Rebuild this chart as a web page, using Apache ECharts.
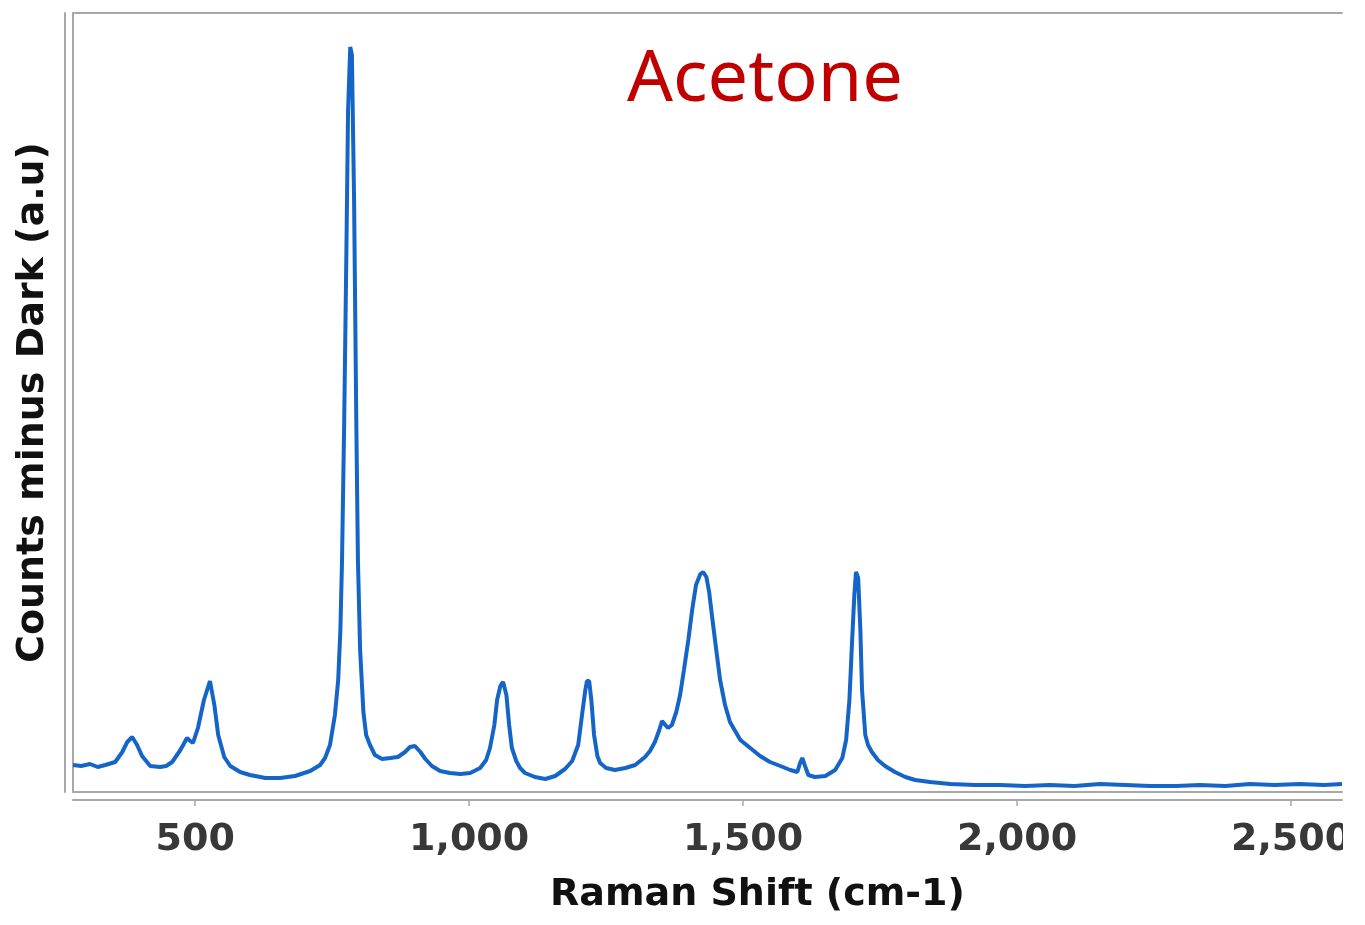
<!DOCTYPE html>
<html><head><meta charset="utf-8">
<script src="https://cdn.jsdelivr.net/npm/echarts@6/dist/echarts.min.js"></script>
<style>html,body{margin:0;padding:0;background:#fff}#c{width:1365px;height:925px}</style>
</head><body><div id="c"></div>
<script>
// Raman shift (cm-1)
const shift = [277,292,308,322,336,354,367,376,385,394,403,418,436,447,458,473,485,491,496,505,516,527,535,542,553,564,582,600,628,655,682,710,728,737,746,755,761,765,768,772,776,779,783,786,790,794,797,801,807,812,819,828,841,856,870,883,892,901,911,920,932,947,965,984,1002,1020,1031,1038,1046,1051,1057,1062,1068,1073,1078,1086,1093,1102,1120,1139,1157,1175,1188,1199,1206,1212,1215,1219,1223,1228,1234,1239,1250,1266,1285,1303,1321,1330,1339,1347,1352,1358,1363,1370,1378,1385,1392,1400,1407,1414,1422,1427,1433,1438,1443,1451,1458,1467,1476,1495,1513,1531,1549,1568,1586,1599,1604,1608,1613,1619,1631,1650,1668,1681,1688,1694,1699,1703,1706,1710,1714,1717,1723,1728,1735,1746,1759,1777,1796,1814,1841,1878,1923,1969,2015,2060,2105,2151,2197,2243,2290,2334,2380,2425,2470,2516,2560,2593];
// Counts minus dark (a.u.)
const counts = [540,520,560,500,540,600,800,1000,1100,940,720,520,500,520,600,840,1080,1020,980,1280,1840,2220,1740,1140,700,520,400,340,280,280,320,420,540,680,940,1540,2240,3240,4640,7440,10840,13640,14900,14740,11840,7440,4640,2840,1600,1140,940,740,660,680,700,800,900,920,800,660,520,420,380,360,380,480,640,880,1340,1840,2120,2200,1940,1340,880,620,480,380,300,260,320,460,620,940,1540,2040,2220,2220,1840,1140,720,580,480,440,480,540,700,820,1000,1240,1420,1340,1280,1340,1600,1940,2440,3040,3640,4140,4360,4400,4300,4000,3540,2840,2240,1740,1400,1040,880,720,600,520,440,400,580,680,520,340,300,320,440,680,1040,1840,3040,3940,4400,4280,3240,2040,1140,940,800,640,520,400,300,240,200,160,140,140,120,140,120,160,140,120,120,140,120,160,140,160,140,160];
const xTicks = [500,1000,1500,2000,2500];
const titleText = 'Acetone';
const xName = 'Raman Shift (cm-1)';
const yName = 'Counts minus Dark (a.u)';

const X_MIN = 277, X_MAX = 2593, Y_MIN = 0, Y_MAX = 15580;
const frameColor = '#a8a8a8';
const chart = echarts.init(document.getElementById('c'), null, {renderer: 'canvas'});

function lineOnlyX(pos, offset) {
  return {type: 'value', min: X_MIN, max: X_MAX, position: pos, offset: offset,
    axisLine: {show: true, onZero: false, lineStyle: {color: frameColor, width: 2}},
    axisTick: {show: false}, axisLabel: {show: false}, splitLine: {show: false}};
}
function lineOnlyY(offset, withName) {
  const a = {type: 'value', min: Y_MIN, max: Y_MAX, position: 'left', offset: offset,
    axisLine: {show: true, onZero: false, lineStyle: {color: frameColor, width: 2}},
    axisTick: {show: false}, axisLabel: {show: false}, splitLine: {show: false}};
  if (withName) {
    a.name = yName; a.nameLocation = 'middle'; a.nameGap = 13;
    a.nameTextStyle = {fontFamily: 'DejaVu Sans', fontWeight: 'bold', fontSize: 38, color: '#111'};
  }
  return a;
}

const option = {
  backgroundColor: '#fff',
  animation: false,
  title: {text: titleText, left: 627, top: 44, padding: 0,
    textStyle: {fontFamily: 'Noto Sans', fontWeight: 'normal', fontSize: 72, color: '#c00000'}},
  grid: {left: 73, right: 23, top: 13, bottom: 133, containLabel: false, outerBoundsMode: 'none'},
  xAxis: [
    {type: 'value', min: X_MIN, max: X_MAX, position: 'bottom', offset: 8,
      axisLine: {show: true, onZero: false, lineStyle: {color: frameColor, width: 2}},
      axisTick: {show: true, customValues: xTicks, length: 6, lineStyle: {color: frameColor, width: 1.5}},
      axisLabel: {show: true, customValues: xTicks, margin: 21,
        fontFamily: 'DejaVu Sans', fontWeight: 'bold', fontSize: 38, color: '#383838',
        formatter: v => v.toLocaleString('en-US')},
      splitLine: {show: false},
      name: xName, nameLocation: 'middle', nameGap: 76,
      nameTextStyle: {fontFamily: 'DejaVu Sans', fontWeight: 'bold', fontSize: 38, color: '#111', padding: [0, 0, 0, 100]}},
    lineOnlyX('bottom', 0),
    lineOnlyX('top', 0)
  ],
  yAxis: [lineOnlyY(0, false), lineOnlyY(8, true)],
  graphic: [{type: 'rect', left: 1343, top: 805, shape: {width: 22, height: 60}, style: {fill: '#fff'}, z: 100}],
  series: [{
    type: 'line', xAxisIndex: 0, yAxisIndex: 0, showSymbol: false, smooth: false,
    lineStyle: {color: '#1565c8', width: 4}, itemStyle: {color: '#1565c8'},
    data: shift.map((s, i) => [s, counts[i]])
  }]
};
chart.setOption(option);
</script></body></html>
